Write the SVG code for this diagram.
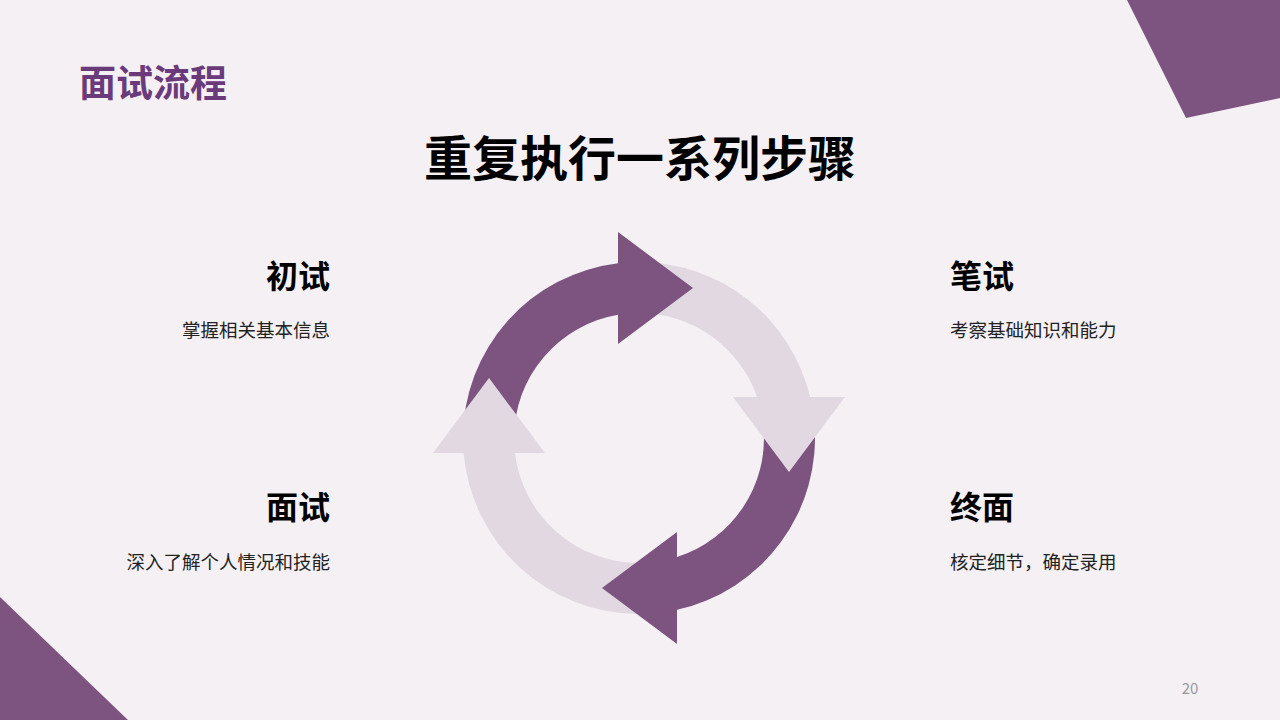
<svg xmlns="http://www.w3.org/2000/svg" width="1280" height="720" viewBox="0 0 1280 720">
<style>
.t{font-family:"Noto Sans CJK SC","Noto Sans",sans-serif;dominant-baseline:central}
.h{font-size:32px;font-weight:700;fill:#000}
.b{font-size:18.5px;fill:#222}
.dk{fill:#7d5480}
.lt{fill:#e2d8e2}
</style>
<rect width="1280" height="720" fill="#f5f0f4"/>
<g id="decor">
<polygon class="dk" points="1127,0 1280,0 1280,98 1186,118"/>
<polygon class="dk" points="0,597 128,720 0,720"/>
</g>
<g id="header">
<text class="t" x="79" y="81" font-size="37" font-weight="700" fill="#6a3a7b">面试流程</text>
<text class="t" x="640" y="155" font-size="48" font-weight="700" fill="#000" text-anchor="middle">重复执行一系列步骤</text>
</g>
<g id="connectors">
<path class="dk" d="M463 438 A176 176 0 0 1 618 263.26 L618 314.78 A125 125 0 0 0 514 438 Z"/>
<path class="lt" d="M639 262 A176 176 0 0 1 810.16 397 L757.08 397 A125 125 0 0 0 639 313 Z"/>
<path class="dk" d="M814.33 422.66 A176 176 0 0 1 677 609.85 L677 557.08 A125 125 0 0 0 763.52 427.11 Z"/>
<path class="lt" d="M639 614 A176 176 0 0 1 463.64 453 L514.9 453 A125 125 0 0 0 639 563 Z"/>
<polygon class="dk" points="618,232 693,288 618,344"/>
<polygon class="lt" points="733,397 845,397 789,472"/>
<polygon class="dk" points="677,532 602,588 677,644"/>
<polygon class="lt" points="433,453 545,453 489,378"/>
</g>
<g id="node-chushi">
<text class="t h" x="330" y="274" text-anchor="end">初试</text>
<text class="t b" x="330" y="329" text-anchor="end">掌握相关基本信息</text>
</g>
<g id="node-bishi">
<text class="t h" x="950" y="274">笔试</text>
<text class="t b" x="950" y="329">考察基础知识和能力</text>
</g>
<g id="node-mianshi">
<text class="t h" x="330" y="505" text-anchor="end">面试</text>
<text class="t b" x="330" y="561" text-anchor="end">深入了解个人情况和技能</text>
</g>
<g id="node-zhongmian">
<text class="t h" x="950" y="505">终面</text>
<text class="t b" x="950" y="561">核定细节，确定录用</text>
</g>
<text class="t" x="1190" y="687" font-size="15" fill="#999" text-anchor="middle" font-family="Liberation Sans, sans-serif">20</text>
</svg>
